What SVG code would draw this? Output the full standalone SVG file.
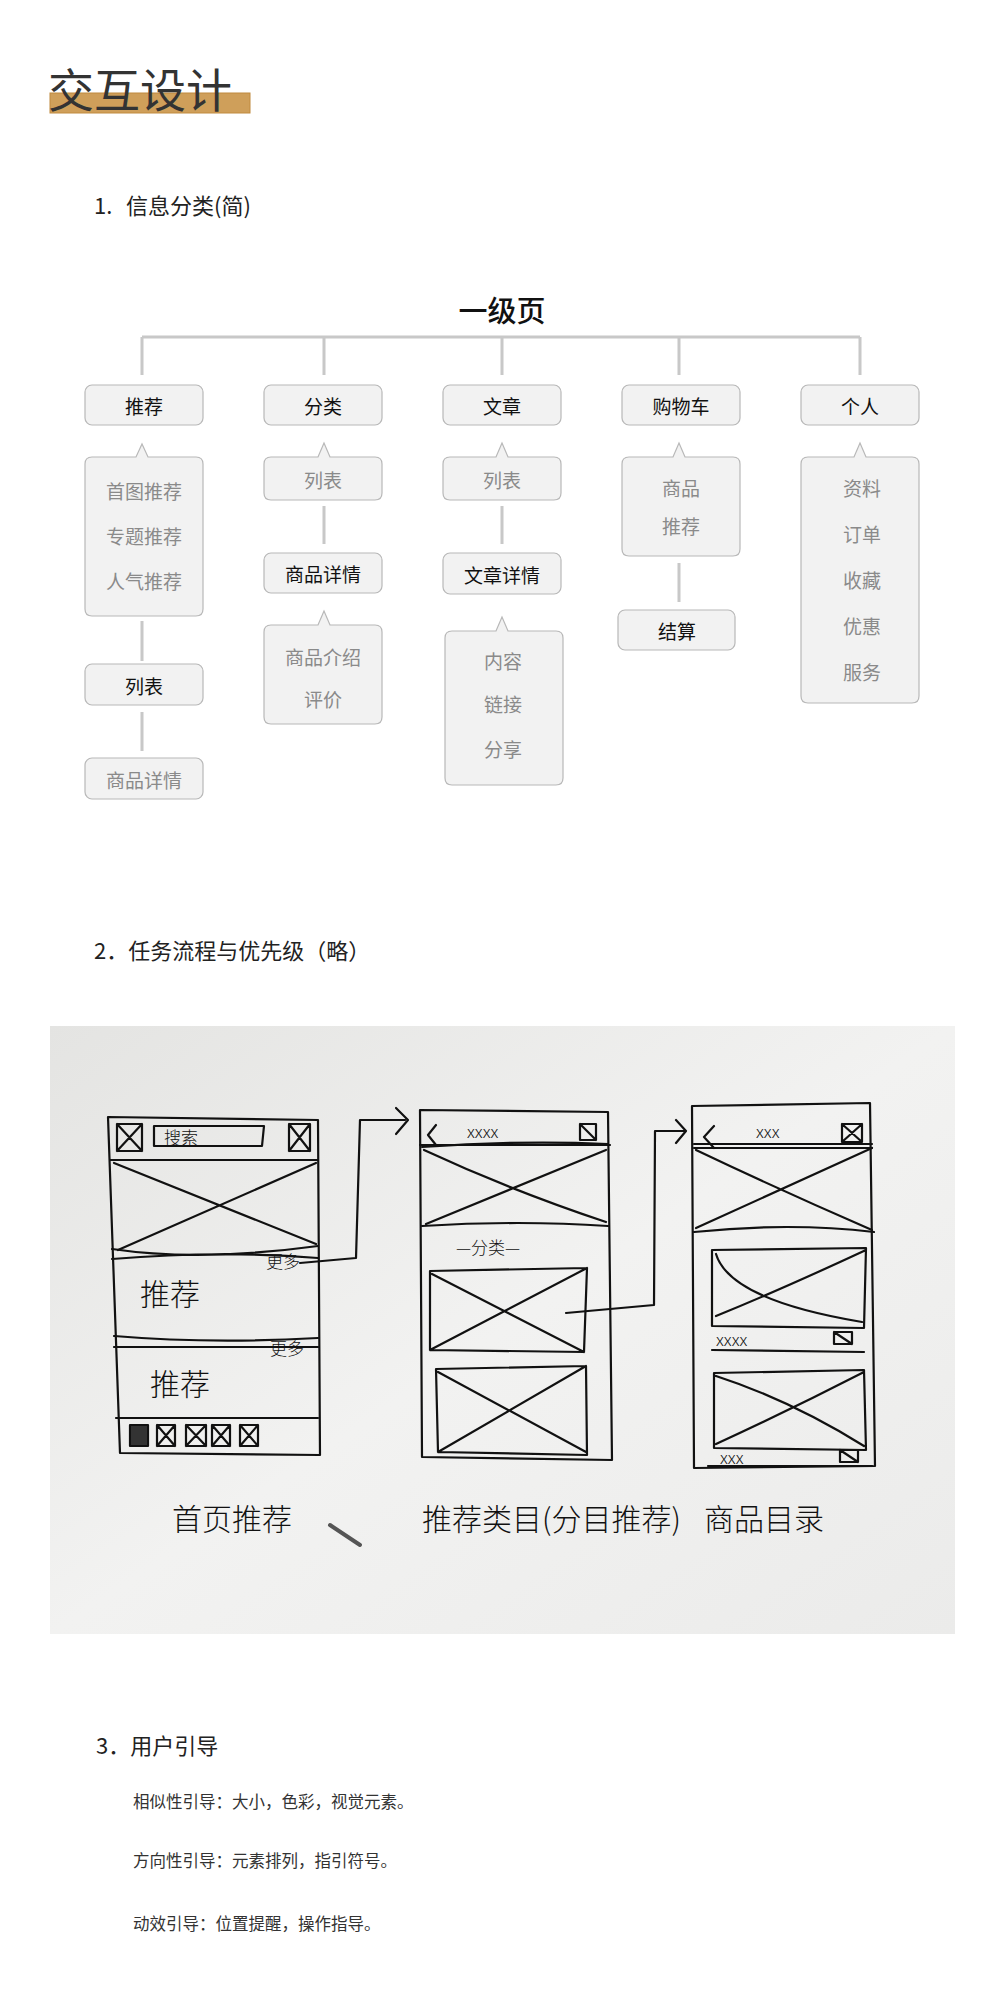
<svg xmlns="http://www.w3.org/2000/svg" width="1000" height="2000" viewBox="0 0 1000 2000">
<defs>
<style>
text{font-family:"Noto Sans CJK SC","Noto Sans",sans-serif}
.box{fill:#f2f2f2;stroke:#b8b8b8;stroke-width:1.2}
.k{font-size:19px;fill:#111;text-anchor:middle;dominant-baseline:central}
.g{font-size:19px;fill:#8a8a8a;text-anchor:middle;dominant-baseline:central}
.c{stroke:#c8c8c8;stroke-width:3;fill:none}
.sk{fill:none;stroke:#111;stroke-width:2.2;stroke-linecap:round;stroke-linejoin:round}
.hw{font-size:30px;fill:#111;font-weight:300}
.hs{font-size:17px;fill:#111;font-weight:300}
.h{font-size:22px;fill:#222}
.p{font-size:16.5px;fill:#333}
</style>
<linearGradient id="bg" x1="0" y1="0" x2="1" y2="1"><stop offset="0" stop-color="#e4e4e2"/><stop offset="0.5" stop-color="#f2f2f1"/><stop offset="1" stop-color="#ebebea"/></linearGradient>
</defs>
<rect width="1000" height="2000" fill="#fff"/>
<g id="title">
<rect x="50" y="93" width="200" height="20" fill="#cf9f5a" stroke="#c08a3e"/>
<text x="48" y="107" font-size="46" font-weight="400" fill="#333">交互设计</text>
</g>
<text x="94" y="214" class="h">1.</text><text x="126" y="214" class="h">信息分类(简)</text>
<g id="root"><text x="502" y="309" font-size="29" font-weight="500" fill="#111" text-anchor="middle" dominant-baseline="central">一级页</text></g>
<g id="connectors">
<path class="c" d="M142 337H860M142 337V375M324 337V375M502 337V375M679 337V375M860 337V375"/>
<path class="c" d="M142 621V661M142 712V751M324 506V544M502 506V544M679 563V602"/>
</g>
<g id="n-tuijian"><rect class="box" x="85" y="385" width="118" height="40" rx="7"/><text class="k" x="144" y="405">推荐</text></g>
<g id="n-fenlei"><rect class="box" x="264" y="385" width="118" height="40" rx="7"/><text class="k" x="323" y="405">分类</text></g>
<g id="n-wenzhang"><rect class="box" x="443" y="385" width="118" height="40" rx="7"/><text class="k" x="502" y="405">文章</text></g>
<g id="n-gouwuche"><rect class="box" x="622" y="385" width="118" height="40" rx="7"/><text class="k" x="681" y="405">购物车</text></g>
<g id="n-geren"><rect class="box" x="801" y="385" width="118" height="40" rx="7"/><text class="k" x="860" y="405">个人</text></g>

<g id="s-tuijian"><path class="box" d="M92 457H136L142 444L148 457H196Q203 457 203 464V609Q203 616 196 616H92Q85 616 85 609V464Q85 457 92 457Z"/>
<text class="g" x="144" y="490">首图推荐</text><text class="g" x="144" y="535">专题推荐</text><text class="g" x="144" y="580">人气推荐</text></g>
<g id="n-liebiao1"><rect class="box" x="85" y="664" width="118" height="41" rx="7"/><text class="k" x="144" y="685">列表</text></g>
<g id="n-spxq1"><rect class="box" x="85" y="758" width="118" height="41" rx="7"/><text class="g" x="144" y="779">商品详情</text></g>

<g id="s-fenlei"><path class="box" d="M271 457H318L324 443L330 457H375Q382 457 382 464V493Q382 500 375 500H271Q264 500 264 493V464Q264 457 271 457Z"/><text class="g" x="323" y="479">列表</text></g>
<g id="n-spxq2"><rect class="box" x="264" y="553" width="118" height="40" rx="7"/><text class="k" x="323" y="573">商品详情</text></g>
<g id="s-spxq2"><path class="box" d="M271 625H318L324 611L330 625H375Q382 625 382 632V717Q382 724 375 724H271Q264 724 264 717V632Q264 625 271 625Z"/>
<text class="g" x="323" y="656">商品介绍</text><text class="g" x="323" y="698">评价</text></g>

<g id="s-wenzhang"><path class="box" d="M450 457H496L502 443L508 457H554Q561 457 561 464V493Q561 500 554 500H450Q443 500 443 493V464Q443 457 450 457Z"/><text class="g" x="502" y="479">列表</text></g>
<g id="n-wzxq"><rect class="box" x="443" y="553" width="118" height="41" rx="7"/><text class="k" x="502" y="574">文章详情</text></g>
<g id="s-wzxq"><path class="box" d="M452 631H496L502 617L508 631H556Q563 631 563 638V778Q563 785 556 785H452Q445 785 445 778V638Q445 631 452 631Z"/>
<text class="g" x="503" y="660">内容</text><text class="g" x="503" y="703">链接</text><text class="g" x="503" y="748">分享</text></g>

<g id="s-gouwuche"><path class="box" d="M629 457H673L679 443L685 457H733Q740 457 740 464V549Q740 556 733 556H629Q622 556 622 549V464Q622 457 629 457Z"/>
<text class="g" x="681" y="487">商品</text><text class="g" x="681" y="525">推荐</text></g>
<g id="n-jiesuan"><rect class="box" x="618" y="610" width="117" height="40" rx="7"/><text class="k" x="677" y="630">结算</text></g>

<g id="s-geren"><path class="box" d="M808 457H854L860 443L866 457H912Q919 457 919 464V696Q919 703 912 703H808Q801 703 801 696V464Q801 457 808 457Z"/>
<text class="g" x="862" y="487">资料</text><text class="g" x="862" y="533">订单</text><text class="g" x="862" y="579">收藏</text><text class="g" x="862" y="625">优惠</text><text class="g" x="862" y="671">服务</text></g>

<text x="94" y="959" class="h">2．任务流程与优先级（略）</text>

<rect x="50" y="1026" width="905" height="608" fill="url(#bg)"/>
<g id="sketch">
<path class="sk" d="M108 1117L318 1120L320 1455L120 1453L108 1117Z"/>
<path class="sk" d="M110 1160H318M112 1249Q200 1262 318 1246M112 1259Q220 1250 318 1258M114 1336Q210 1344 318 1338M114 1347H318M116 1418H318"/>
<path class="sk" d="M114 1163L316 1244M316 1163L118 1250"/>
<path class="sk" d="M117 1124H142V1151H117ZM117 1124L142 1151M142 1124L117 1151M154 1126H264L262 1146H154ZM289 1124H310V1151H289ZM289 1124L310 1151M310 1124L289 1151"/>
<text class="hs" x="164" y="1144">搜索</text>
<path class="sk" d="M130 1425H148V1446H130ZM157 1425H175V1446H157ZM157 1425L175 1446M175 1425L157 1446M186 1425H206V1446H186ZM186 1425L206 1446M206 1425L186 1446M212 1425H230V1446H212ZM212 1425L230 1446M230 1425L212 1446M240 1425H258V1446H240ZM240 1425L258 1446M258 1425L240 1446"/>
<rect x="131" y="1426" width="16" height="19" fill="#333"/>
<text class="hs" x="266" y="1268">更多</text><text class="hs" x="270" y="1355">更多</text>
<text class="hw" x="140" y="1305" font-size="30">推荐</text><text class="hw" x="150" y="1395" font-size="30">推荐</text>
<path class="sk" d="M300 1263L356 1258L360 1120H405M396 1108L408 1120L396 1134"/>
<path class="sk" d="M420 1110L608 1112L612 1460L422 1457Z"/>
<path class="sk" d="M420 1145H610M422 1147Q520 1140 608 1144M422 1226Q520 1220 608 1226"/>
<path class="sk" d="M424 1150Q510 1190 606 1222M606 1150Q520 1185 426 1224M436 1125L428 1135L436 1145"/>
<text class="hs" x="467" y="1138">xxxx</text>
<path class="sk" d="M580 1124H596V1140H580ZM580 1124L596 1140"/>
<text class="hs" x="456" y="1254">—分类—</text>
<path class="sk" d="M430 1271L587 1268L584 1352L430 1350ZM432 1274L584 1352M587 1268L430 1350"/>
<path class="sk" d="M436 1369L586 1366L587 1455L438 1452ZM438 1372L586 1452M586 1366L438 1452"/>
<path class="sk" d="M566 1313L654 1305L655 1131H684M676 1120L686 1131L676 1143"/>
<path class="sk" d="M692 1106L870 1103L875 1466L694 1468Z"/>
<path class="sk" d="M694 1144H872M694 1148H872M694 1232Q790 1222 874 1232"/>
<path class="sk" d="M696 1150Q780 1190 872 1230M872 1148Q780 1190 696 1228M714 1126L704 1137L714 1148"/>
<text class="hs" x="756" y="1138">xxx</text>
<path class="sk" d="M842 1124H862V1142H842ZM842 1124L862 1142M862 1124L842 1142"/>
<path class="sk" d="M712 1250L866 1248L864 1328L712 1326ZM716 1254Q730 1300 862 1322M866 1250Q780 1290 716 1316M712 1350L864 1352"/>
<text class="hs" x="716" y="1346">xxxx</text>
<path class="sk" d="M834 1332H852V1344H834ZM834 1332L852 1344"/>
<path class="sk" d="M714 1373L864 1370L866 1450L714 1448ZM716 1376Q790 1400 864 1446M864 1372Q790 1410 716 1444M708 1466H872"/>
<text class="hs" x="720" y="1464">xxx</text>
<path class="sk" d="M840 1450H858V1462H840ZM840 1450L858 1462"/>
<text class="hw" x="172" y="1530">首页推荐</text>
<text class="hw" x="422" y="1530">推荐类目(分目推荐)</text>
<text class="hw" x="704" y="1530">商品目录</text>
<path d="M330 1525L360 1545" stroke="#555" stroke-width="4" stroke-linecap="round"/>
</g>

<text x="96" y="1754" class="h">3．用户引导</text>
<text x="133" y="1808" class="p">相似性引导：大小，色彩，视觉元素。</text>
<text x="133" y="1867" class="p">方向性引导：元素排列，指引符号。</text>
<text x="133" y="1930" class="p">动效引导：位置提醒，操作指导。</text>
</svg>
